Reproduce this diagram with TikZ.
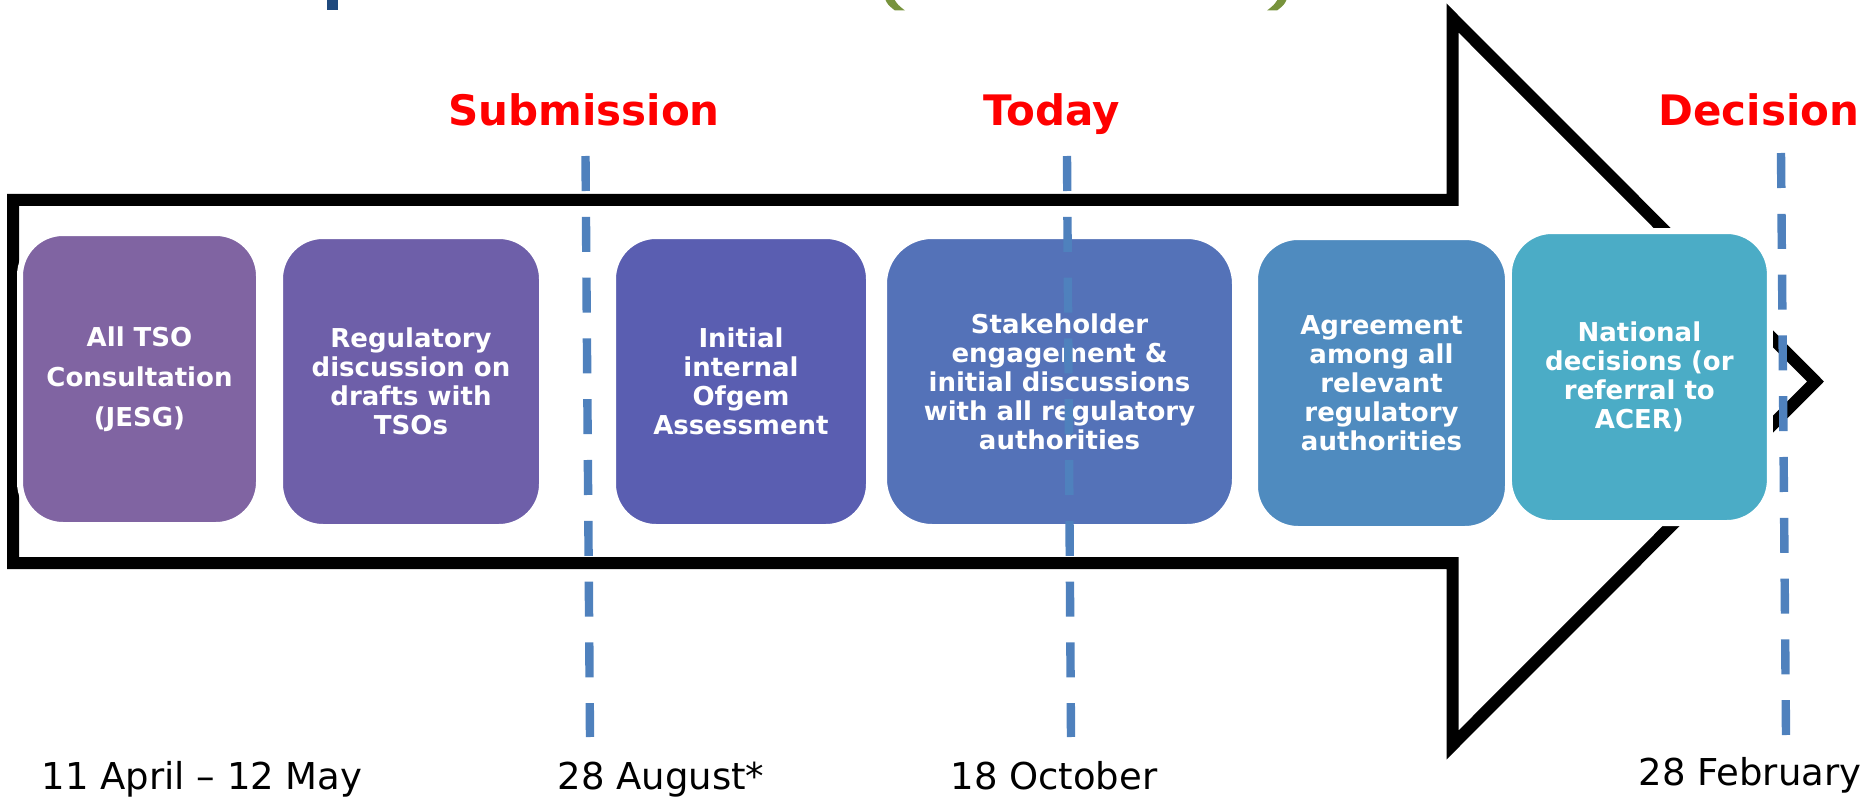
\documentclass[tikz,border=0pt]{standalone}
\usepackage{fontspec}
\setmainfont{DejaVu Sans}

\definecolor{stageA}{RGB}{128,100,162}
\definecolor{stageB}{RGB}{110,95,169}
\definecolor{stageC}{RGB}{90,94,177}
\definecolor{stageD}{RGB}{84,114,184}
\definecolor{stageE}{RGB}{79,139,191}
\definecolor{stageF}{RGB}{75,172,198}
\definecolor{dashblue}{RGB}{79,129,189}
\definecolor{titleblue}{RGB}{31,73,125}
\definecolor{titlegreen}{RGB}{119,147,60}

\tikzset{
    % rounded boxes of the process
    stage/.style={draw=white,line width=3pt,rounded corners=21.5pt,inner sep=0pt,
        text=white,align=center,font=\bfseries\fontsize{13}{14.5}\selectfont},
    milestone/.style={draw=dashblue,line width=4.2pt,dash pattern=on 17.5pt off 12.9pt},
    event/.style={text=red,anchor=base,font=\bfseries\fontsize{21}{25}\selectfont},
    datelabel/.style={anchor=base,font=\fontsize{18.5}{22}\selectfont},
}

\begin{document}
\begin{tikzpicture}[x=0.5pt,y=-0.5pt]
    \useasboundingbox (0,0) rectangle (1870,797);
    % cut off title pieces
    \fill[titleblue] (326.7,0) rectangle (338.3,10.3);
    \fill[titlegreen] (885,-1) .. controls (888,5) .. (895,10.5) -- (905,10.5) .. controls (898,5) .. (894,-1) -- cycle;
    \fill[titlegreen] (1287,-1) .. controls (1284,5) .. (1277,10.5) -- (1267,10.5) .. controls (1274,5) .. (1278,-1) -- cycle;
    % big arrow
    \draw[line width=6pt,line join=miter] (13,200) -- (1452.5,200) -- (1452.5,18) -- (1815.5,381.5)
        -- (1452.5,745) -- (1452.5,563) -- (13,563) -- cycle;

    \node[stage,fill=stageA,minimum width=119.5pt,minimum height=146pt,
        font=\bfseries\fontsize{13}{20}\selectfont] (tso) at (139.5,379) {All TSO\\Consultation\\(JESG)};
    \node[stage,fill=stageB,minimum width=131pt,minimum height=145.5pt] (drafts) at (411,381.5)
        {Regulatory\\discussion on\\drafts with\\TSOs};
    \node[stage,fill=stageC,minimum width=128pt,minimum height=145.5pt] (ofgem) at (741,381.5)
        {Initial\\internal\\Ofgem\\Assessment};
    \node[stage,fill=stageD,minimum width=175.5pt,minimum height=145.5pt,rounded corners=24pt] (stakeholder) at (1059.5,381.5)
        {Stakeholder\\engagement \&\\initial discussions\\with all regulatory\\authorities};
    \node[stage,fill=stageE,minimum width=126.5pt,minimum height=146pt] (agreement) at (1381.5,383)
        {Agreement\\among all\\relevant\\regulatory\\authorities};
    \node[stage,fill=stageF,minimum width=130.5pt,minimum height=146pt] (national) at (1639.4,377)
        {National\\decisions (or\\referral to\\ACER)};

    \foreach \name/\xt/\yt/\xb/\yb in {sub/585.5/156/590/737,today/1067/156/1071/737,dec/1781/153/1786/735}{
        \coordinate (\name top) at (\xt,\yt);
        \coordinate (\name bot) at (\xb,\yb);
        \draw[milestone] (\name top) -- (\name bot);
    }

    \node[event] (submission) at (584,126) {Submission};
    \node[event] (today) at (1052,126) {Today};
    \node[event] (decision) at (1759,126) {Decision};

    \node[datelabel] (consult date) at (202,789) {11 April – 12 May};
    \node[datelabel] (submit date) at (661,789) {28 August*};
    \node[datelabel] (today date) at (1054,789) {18 October};
    \node[datelabel] (decide date) at (1750,785) {28 February};
\end{tikzpicture}
\end{document}
